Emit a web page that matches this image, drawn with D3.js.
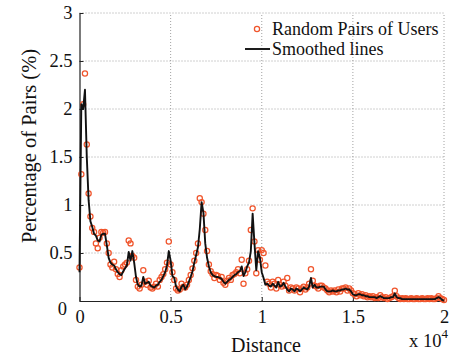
<!DOCTYPE html>
<html>
<head>
<meta charset="utf-8">
<script src="https://cdn.jsdelivr.net/npm/d3@7"></script>
<style>
  html, body { margin: 0; padding: 0; background: #fff; }
  svg text { font-family: "Liberation Serif", "Times New Roman", serif; fill: #111; }
</style>
</head>
<body>
<svg id="chart" width="467" height="360"></svg>
<script>
// ---- data ----
const distanceStep = 100; // bin width in distance units
const randomPairs = [
  0.35, 1.32, 2.05, 2.37, 1.63, 1.12, 0.88, 0.76, 0.72, 0.60,
  0.55, 0.66, 0.72, 0.71, 0.72, 0.60, 0.50, 0.38, 0.35, 0.41,
  0.33, 0.28, 0.25, 0.32, 0.36, 0.38, 0.40, 0.63, 0.60, 0.47,
  0.45, 0.22, 0.15, 0.13, 0.17, 0.32, 0.20, 0.17, 0.21, 0.14,
  0.13, 0.15, 0.18, 0.15, 0.22, 0.25, 0.28, 0.33, 0.40, 0.62,
  0.38, 0.30, 0.22, 0.13, 0.11, 0.12, 0.18, 0.15, 0.14, 0.17,
  0.22, 0.27, 0.34, 0.42, 0.50, 0.60, 1.07, 1.03, 0.91, 0.74,
  0.52, 0.38, 0.31, 0.28, 0.24, 0.27, 0.26, 0.22, 0.25, 0.19,
  0.17, 0.21, 0.24, 0.22, 0.27, 0.28, 0.30, 0.33, 0.29, 0.43,
  0.18, 0.29, 0.33, 0.42, 0.74, 0.965, 0.62, 0.29, 0.53, 0.43,
  0.53, 0.50, 0.37, 0.20, 0.18, 0.14, 0.20, 0.18, 0.13, 0.22,
  0.17, 0.15, 0.20, 0.16, 0.24, 0.11, 0.14, 0.13, 0.11, 0.14,
  0.13, 0.09, 0.13, 0.15, 0.12, 0.14, 0.18, 0.33, 0.21, 0.16,
  0.15, 0.13, 0.16, 0.16, 0.14, 0.13, 0.11, 0.09, 0.11, 0.10,
  0.11, 0.09, 0.12, 0.10, 0.13, 0.13, 0.14, 0.11, 0.13, 0.11,
  0.08, 0.07, 0.05, 0.08, 0.06, 0.07, 0.05, 0.06, 0.04, 0.05,
  0.04, 0.05, 0.03, 0.04, 0.03, 0.06, 0.04, 0.03, 0.04, 0.02,
  0.03, 0.04, 0.05, 0.107, 0.05, 0.03, 0.02, 0.03, 0.02, 0.03,
  0.02, 0.02, 0.03, 0.02, 0.02, 0.03, 0.02, 0.02, 0.03, 0.02,
  0.02, 0.03, 0.02, 0.03, 0.02, 0.02, 0.03, 0.05, 0.03, 0.02,
  0.01
];
const smoothed = [
  0.30, 2.05, 2.00, 2.20, 1.50, 1.05, 0.83, 0.77, 0.70, 0.68,
  0.63, 0.62, 0.69, 0.70, 0.70, 0.58, 0.45, 0.40, 0.38, 0.37,
  0.33, 0.30, 0.28, 0.27, 0.31, 0.34, 0.37, 0.51, 0.42, 0.52,
  0.40, 0.25, 0.17, 0.15, 0.16, 0.25, 0.18, 0.19, 0.20, 0.16,
  0.15, 0.14, 0.16, 0.17, 0.20, 0.22, 0.26, 0.30, 0.37, 0.52,
  0.42, 0.26, 0.24, 0.15, 0.12, 0.10, 0.15, 0.17, 0.12, 0.15,
  0.20, 0.25, 0.31, 0.40, 0.48, 0.56, 0.75, 1.03, 0.92, 0.60,
  0.45, 0.36, 0.30, 0.27, 0.26, 0.25, 0.25, 0.24, 0.23, 0.20,
  0.18, 0.20, 0.22, 0.23, 0.25, 0.27, 0.28, 0.30, 0.31, 0.36,
  0.26, 0.30, 0.36, 0.40, 0.52, 0.91, 0.60, 0.32, 0.52, 0.45,
  0.30, 0.24, 0.17, 0.18, 0.16, 0.15, 0.18, 0.16, 0.14, 0.20,
  0.15, 0.16, 0.19, 0.15, 0.12, 0.10, 0.13, 0.12, 0.10, 0.13,
  0.12, 0.10, 0.12, 0.14, 0.13, 0.12, 0.15, 0.24, 0.14, 0.17,
  0.14, 0.14, 0.15, 0.15, 0.15, 0.12, 0.10, 0.10, 0.10, 0.11,
  0.10, 0.10, 0.11, 0.11, 0.12, 0.12, 0.13, 0.12, 0.12, 0.10,
  0.07, 0.06, 0.06, 0.07, 0.07, 0.06, 0.06, 0.05, 0.05, 0.04,
  0.04, 0.04, 0.04, 0.03, 0.04, 0.05, 0.04, 0.03, 0.03, 0.03,
  0.03, 0.04, 0.04, 0.08, 0.04, 0.03, 0.03, 0.02, 0.02, 0.02,
  0.02, 0.02, 0.02, 0.02, 0.02, 0.02, 0.02, 0.02, 0.02, 0.02,
  0.02, 0.02, 0.02, 0.02, 0.02, 0.02, 0.03, 0.04, 0.03, 0.01,
  0.005
];
const xTicks = [0, 5000, 10000, 15000, 20000];
const xTickLabels = ["0", "0.5", "1", "1.5", "2"];
const yTicks = [0, 0.5, 1, 1.5, 2, 2.5, 3];
const yTickLabels = ["0", "0.5", "1", "1.5", "2", "2.5", "3"];
const seriesNames = ["Random Pairs of Users", "Smoothed lines"];

// ---- chart ----
const svg = d3.select("#chart");
const x = d3.scaleLinear().domain([0, 20000]).range([79.5, 444]);
const y = d3.scaleLinear().domain([0, 3]).range([301, 13]);
const dotColor = "#f0552c";

// grid
const grid = svg.append("g");
grid.selectAll("line.gx").data(xTicks.slice(1)).join("line")
  .attr("x1", d => x(d)).attr("x2", d => x(d))
  .attr("y1", y(0)).attr("y2", y(3))
  .attr("stroke", "#8a8a8a").attr("stroke-width", 0.8).attr("stroke-dasharray", "1,2");
grid.selectAll("line.gy").data(yTicks.slice(1)).join("line")
  .attr("x1", x(0)).attr("x2", x(20000))
  .attr("y1", d => y(d)).attr("y2", d => y(d))
  .attr("stroke", "#8a8a8a").attr("stroke-width", 0.8).attr("stroke-dasharray", "1,2");

// axes
const xAxis = d3.axisBottom(x).tickValues(xTicks)
  .tickFormat((d, i) => xTickLabels[i]).tickSizeInner(-4).tickSizeOuter(0).tickPadding(9);
const gx = svg.append("g").attr("transform", `translate(0,${y(0)})`).call(xAxis);
gx.select(".domain").attr("stroke", "#222").attr("stroke-width", 1.2);
gx.selectAll(".tick line").attr("stroke", "#222");
gx.selectAll("text").attr("font-size", 18.5).attr("fill", "#111");

const yAxis = d3.axisLeft(y).tickValues(yTicks)
  .tickFormat((d, i) => yTickLabels[i]).tickSizeInner(-4).tickSizeOuter(0).tickPadding(7);
const gy = svg.append("g").attr("transform", `translate(${x(0)},0)`).call(yAxis);
gy.select(".domain").attr("stroke", "#222").attr("stroke-width", 1.2);
gy.selectAll(".tick line").attr("stroke", "#222");
gy.selectAll("text").attr("font-size", 18.5).attr("fill", "#111");
gy.selectAll(".tick").filter(d => d === 0).select("text")
  .attr("dy", "0.75em").attr("dx", "-0.3em");

// data marks
const pts = randomPairs.map((v, i) => ({ d: i * distanceStep, v }));
const sm = smoothed.map((v, i) => ({ d: i * distanceStep, v }));

svg.append("g").selectAll("circle").data(pts).join("circle")
  .attr("cx", p => x(p.d)).attr("cy", p => y(p.v)).attr("r", 2.6)
  .attr("fill", "none").attr("stroke", dotColor).attr("stroke-width", 1.25);

svg.append("path").datum(sm)
  .attr("d", d3.line().x(p => x(p.d)).y(p => y(p.v)))
  .attr("fill", "none").attr("stroke", "#111").attr("stroke-width", 1.9)
  .attr("stroke-linejoin", "round");

// axis labels
svg.append("text").attr("x", 266).attr("y", 352).attr("text-anchor", "middle")
  .attr("font-size", 20).text("Distance");
svg.append("text")
  .attr("transform", "translate(36,146) rotate(-90)")
  .attr("text-anchor", "middle").attr("font-size", 20.5).text("Percentage of Pairs (%)");
const mult = svg.append("text").attr("x", 409).attr("y", 347).attr("font-size", 18.5);
mult.append("tspan").text("x 10");
mult.append("tspan").attr("font-size", 13).attr("dy", -9).text("4");

// legend
const lg = svg.append("g");
lg.append("circle").attr("cx", 257).attr("cy", 29).attr("r", 2.6)
  .attr("fill", "none").attr("stroke", dotColor).attr("stroke-width", 1.25);
lg.append("line").attr("x1", 245).attr("x2", 270).attr("y1", 49).attr("y2", 49)
  .attr("stroke", "#111").attr("stroke-width", 1.9);
lg.selectAll("text").data(seriesNames).join("text")
  .attr("x", 272).attr("y", (d, i) => 35 + i * 20).attr("font-size", 18).text(d => d);
</script>
</body>
</html>
